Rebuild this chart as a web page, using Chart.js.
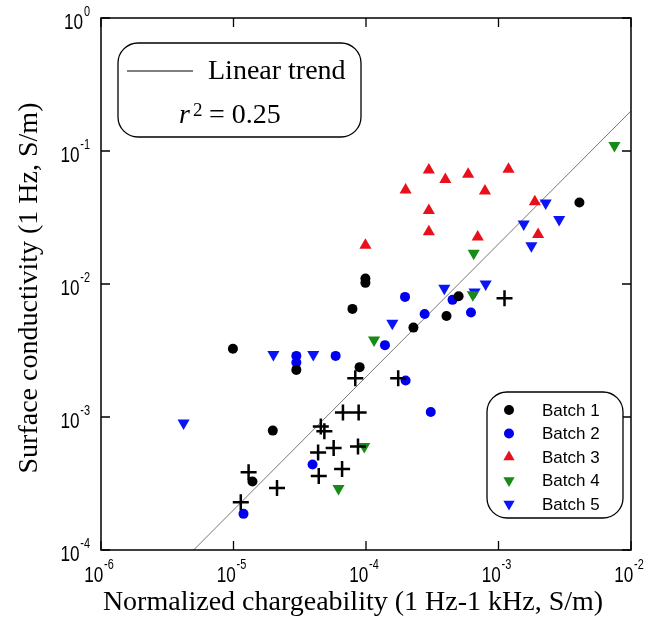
<!DOCTYPE html>
<html>
<head>
<meta charset="utf-8">
<script src="https://cdn.jsdelivr.net/npm/chart.js@4.4.0/dist/chart.umd.min.js"></script>
<style>
  html, body { margin: 0; padding: 0; background: #fff; }
  #wrap { width: 654px; height: 620px; }
</style>
</head>
<body>
<div id="wrap"><canvas id="chart" width="654" height="620"></canvas></div>
<script>
// Reference chart: surface conductivity vs normalized chargeability (log-log)

const xTicks = [1e-6, 1e-5, 1e-4, 1e-3, 1e-2];
const yTicks = [1e-4, 1e-3, 1e-2, 1e-1, 1e0];

const batch1X = [9.9e-6, 2.98e-5, 8.95e-5, 9.9e-5, 9.9e-5, 7.9e-5, 2.28e-4, 4.05e-4, 5.0e-4, 4.08e-3, 1.98e-5, 1.39e-5];
const batch1Y = [3.26e-3, 2.26e-3, 2.37e-3, 1.10e-2, 1.02e-2, 6.5e-3, 4.7e-3, 5.75e-3, 8.1e-3, 4.1e-2, 7.9e-4, 3.27e-4];

const batch2X = [1.97e-4, 4.5e-4, 2.77e-4, 6.2e-4, 1.39e-4, 2.98e-5, 2.98e-5, 5.9e-5, 1.99e-4, 3.08e-4, 3.95e-5, 1.19e-5];
const batch2Y = [8.0e-3, 7.6e-3, 5.95e-3, 6.1e-3, 3.47e-3, 2.88e-3, 2.57e-3, 2.88e-3, 1.88e-3, 1.09e-3, 4.39e-4, 1.87e-4];

const batch3X = [2.98e-4, 3.97e-4, 5.9e-4, 1.19e-3, 1.99e-4, 7.9e-4, 2.98e-4, 1.88e-3, 2.98e-4, 6.97e-4, 1.99e-3, 9.9e-5];
const batch3Y = [7.2e-2, 6.1e-2, 6.7e-2, 7.3e-2, 5.1e-2, 5.0e-2, 3.57e-2, 4.15e-2, 2.47e-2, 2.26e-2, 2.36e-2, 1.96e-2];

const batch4X = [7.5e-3, 6.5e-4, 6.4e-4, 1.15e-4, 9.7e-5, 6.2e-5];
const batch4Y = [0.110, 1.70e-2, 8.3e-3, 3.8e-3, 6.0e-4, 2.9e-4];

const batch5X = [2.27e-3, 1.55e-3, 2.87e-3, 1.77e-3, 3.9e-4, 6.6e-4, 8.0e-4, 1.58e-4, 2.0e-5, 4.0e-5, 4.2e-6];
const batch5Y = [4.07e-2, 2.82e-2, 3.05e-2, 1.94e-2, 9.3e-3, 8.7e-3, 1.0e-2, 5.07e-3, 2.95e-3, 2.95e-3, 9.0e-4];

// black crosses (not in the legend)
const crossX = [1.11e-3, 8.3e-5, 1.75e-4, 6.7e-5, 8.8e-5, 4.56e-5, 4.85e-5, 5.7e-5, 8.7e-5, 4.35e-5, 6.6e-5, 4.4e-5, 1.3e-5, 2.13e-5, 1.135e-5];
const crossY = [7.8e-3, 1.96e-3, 1.96e-3, 1.08e-3, 1.08e-3, 8.5e-4, 7.8e-4, 5.85e-4, 6.0e-4, 5.4e-4, 4.07e-4, 3.6e-4, 3.85e-4, 2.93e-4, 2.29e-4];

// linear trend end points
const trendX = [5e-6, 1e-2];
const trendY = [1e-4, 0.2];

const batchLabels = ['Batch 1', 'Batch 2', 'Batch 3', 'Batch 4', 'Batch 5'];
const batchColors = ['#000000', '#0000ee', '#e8101a', '#188a18', '#0a14f5'];
const batchStyles = ['circle', 'circle', 'triangle', 'triangle', 'triangle'];
const batchRotation = [0, 0, 0, 180, 180];

function pts(xs, ys) {
    return xs.map((x, i) => ({ x: x, y: ys[i] }));
}

const batchX = [batch1X, batch2X, batch3X, batch4X, batch5X];
const batchY = [batch1Y, batch2Y, batch3Y, batch4Y, batch5Y];

const datasets = [];
datasets.push({
    label: 'cross',
    data: pts(crossX, crossY),
    pointStyle: 'cross',
    pointRadius: 8,
    borderColor: '#000',
    borderWidth: 2.5,
    order: 0
});
batchLabels.forEach((name, i) => {
    datasets.push({
        label: name,
        data: pts(batchX[i], batchY[i]),
        pointStyle: batchStyles[i],
        rotation: batchRotation[i],
        pointRadius: batchStyles[i] === 'circle' ? 5 : 7,
        backgroundColor: batchColors[i],
        borderColor: batchColors[i],
        borderWidth: 0,
        order: i + 1
    });
});
datasets.push({
    type: 'line',
    label: 'Linear trend',
    data: pts(trendX, trendY),
    borderColor: '#555',
    borderWidth: 0.8,
    pointRadius: 0,
    fill: false,
    order: 10
});

function roundBox(ctx, x, y, w, h, r) {
    ctx.beginPath();
    ctx.moveTo(x + r, y);
    ctx.lineTo(x + w - r, y);
    ctx.arcTo(x + w, y, x + w, y + r, r);
    ctx.lineTo(x + w, y + h - r);
    ctx.arcTo(x + w, y + h, x + w - r, y + h, r);
    ctx.lineTo(x + r, y + h);
    ctx.arcTo(x, y + h, x, y + h - r, r);
    ctx.lineTo(x, y + r);
    ctx.arcTo(x, y, x + r, y, r);
    ctx.closePath();
    ctx.fillStyle = '#fff';
    ctx.fill();
    ctx.lineWidth = 1.3;
    ctx.strokeStyle = '#000';
    ctx.stroke();
    ctx.fillStyle = '#000';
}

// "10" with superscript exponent, narrow like the original
const SQ = 0.78;
function powerLabel(val) {
    return { base: '10', exp: String(Math.round(Math.log10(val))) };
}
function labelWidth(ctx, lab) {
    ctx.font = '22px "Liberation Sans", Arial, sans-serif';
    const a = ctx.measureText(lab.base).width;
    ctx.font = '14px "Liberation Sans", Arial, sans-serif';
    const b = ctx.measureText(lab.exp).width;
    return (a + b + 1) * SQ;
}
function drawPower(ctx, lab, x, baseline) {
    ctx.save();
    ctx.translate(x, baseline);
    ctx.scale(SQ, 1);
    ctx.fillStyle = '#000';
    ctx.textAlign = 'left';
    ctx.textBaseline = 'alphabetic';
    ctx.font = '22px "Liberation Sans", Arial, sans-serif';
    ctx.fillText(lab.base, 0, 0);
    const a = ctx.measureText(lab.base).width;
    ctx.font = '14px "Liberation Sans", Arial, sans-serif';
    ctx.fillText(lab.exp, a + 1, -13);
    ctx.restore();
}

const decorPlugin = {
    id: 'decor',
    afterDraw(chart) {
        const ctx = chart.ctx;
        const area = chart.chartArea;
        const xs = chart.scales.x;
        const ys = chart.scales.y;
        ctx.save();

        // frame
        ctx.strokeStyle = '#000';
        ctx.lineWidth = 1.5;
        ctx.strokeRect(area.left, area.top, area.right - area.left, area.bottom - area.top);

        // inward ticks on all sides
        const tl = 9;
        ctx.lineWidth = 1.3;
        ctx.beginPath();
        xTicks.forEach(v => {
            const px = xs.getPixelForValue(v);
            ctx.moveTo(px, area.bottom); ctx.lineTo(px, area.bottom - tl);
            ctx.moveTo(px, area.top); ctx.lineTo(px, area.top + tl);
        });
        yTicks.forEach(v => {
            const py = ys.getPixelForValue(v);
            ctx.moveTo(area.left, py); ctx.lineTo(area.left + tl, py);
            ctx.moveTo(area.right, py); ctx.lineTo(area.right - tl, py);
        });
        ctx.stroke();

        // tick labels
        xTicks.forEach(v => {
            const lab = powerLabel(v);
            const w = labelWidth(ctx, lab);
            const px = xs.getPixelForValue(v);
            drawPower(ctx, lab, px - w / 2 - 2, area.bottom + 32);
        });
        yTicks.forEach(v => {
            const lab = powerLabel(v);
            const w = labelWidth(ctx, lab);
            const py = ys.getPixelForValue(v);
            drawPower(ctx, lab, area.left - 11 - w, py + 11);
        });

        // axis titles
        ctx.fillStyle = '#000';
        ctx.font = '28px "Liberation Serif", "Times New Roman", serif';
        ctx.textAlign = 'center';
        ctx.textBaseline = 'alphabetic';
        ctx.fillText('Normalized chargeability (1 Hz-1 kHz, S/m)', 353, 610);
        ctx.save();
        ctx.translate(37, (area.top + area.bottom) / 2 + 4);
        ctx.rotate(-Math.PI / 2);
        ctx.fillText('Surface conductivity (1 Hz, S/m)', 0, 0);
        ctx.restore();

        // trend legend box
        roundBox(ctx, 118, 43, 243, 94, 20);
        ctx.strokeStyle = '#000';
        ctx.lineWidth = 1.2;
        ctx.beginPath();
        ctx.moveTo(127, 71);
        ctx.lineTo(193, 71);
        ctx.stroke();
        ctx.fillStyle = '#000';
        ctx.textAlign = 'left';
        ctx.font = '28px "Liberation Serif", "Times New Roman", serif';
        ctx.fillText('Linear trend', 208, 79);
        ctx.font = 'italic 28px "Liberation Serif", "Times New Roman", serif';
        ctx.fillText('r', 179, 123);
        ctx.font = '19px "Liberation Serif", "Times New Roman", serif';
        ctx.fillText('2', 193, 116);
        ctx.font = '28px "Liberation Serif", "Times New Roman", serif';
        ctx.fillText('= 0.25', 209, 123);

        // batch legend box
        roundBox(ctx, 487, 392, 136, 126, 20);
        ctx.font = '17px "Liberation Sans", Arial, sans-serif';
        ctx.textBaseline = 'middle';
        batchLabels.forEach((name, i) => {
            const cy = 410 + i * 23.5;
            ctx.fillStyle = batchColors[i];
            ctx.strokeStyle = batchColors[i];
            Chart.helpers.drawPoint(ctx, {
                pointStyle: batchStyles[i],
                rotation: batchRotation[i],
                radius: batchStyles[i] === 'circle' ? 5 : 6.5,
                borderWidth: 0
            }, 509, cy);
            ctx.fillStyle = '#000';
            ctx.fillText(name, 542, cy + 1);
        });

        ctx.restore();
    }
};

const zeroSize = {
    x: function (scale) { scale.height = 0; },
    y: function (scale) { scale.width = 0; }
};

new Chart(document.getElementById('chart'), {
    type: 'scatter',
    data: { datasets: datasets },
    options: {
        responsive: false,
        animation: false,
        layout: { padding: { left: 101, right: 23, top: 18, bottom: 70 } },
        scales: {
            x: {
                type: 'logarithmic',
                min: 1e-6,
                max: 1e-2,
                ticks: { display: false },
                grid: { display: false },
                border: { display: false },
                afterFit: zeroSize.x
            },
            y: {
                type: 'logarithmic',
                min: 1e-4,
                max: 1,
                ticks: { display: false },
                grid: { display: false },
                border: { display: false },
                afterFit: zeroSize.y
            }
        },
        plugins: {
            legend: { display: false },
            tooltip: { enabled: false }
        }
    },
    plugins: [decorPlugin]
});
</script>
</body>
</html>
